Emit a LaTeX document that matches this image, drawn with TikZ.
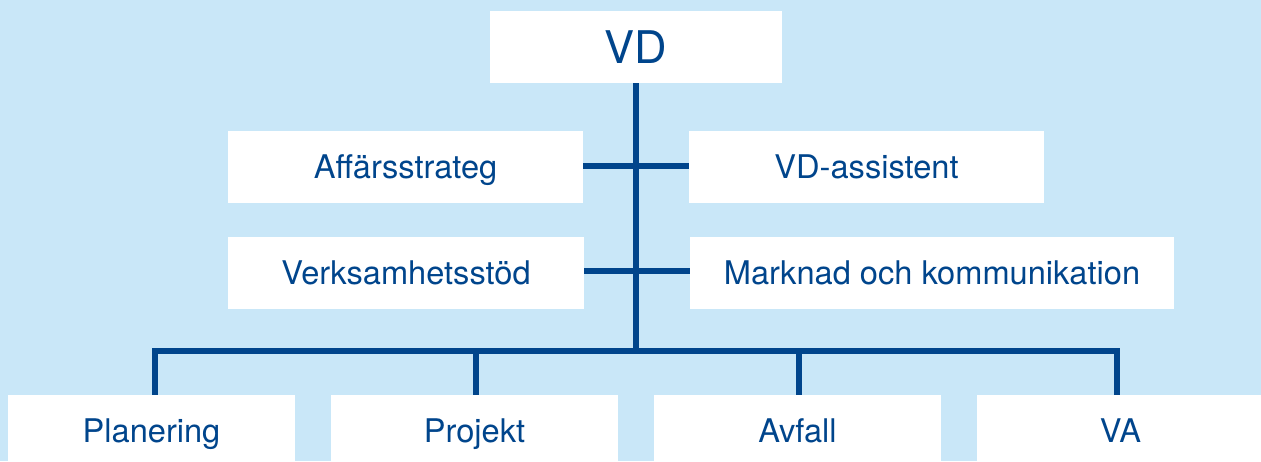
\documentclass[tikz,border=0pt]{standalone}
\usepackage{fontspec}
\setmainfont{TeX Gyre Heros}
\definecolor{bgblue}{HTML}{C9E7F8}
\definecolor{dkblue}{HTML}{00458C}
\begin{document}
\begin{tikzpicture}[x=1pt,y=-1pt,
  box/.style={fill=white, draw=none, inner sep=0pt, text=dkblue,
    font=\fontsize{32.6}{38}\selectfont, text height=23.4pt, text depth=0pt,
    minimum height=72pt},
  bigbox/.style={box, font=\fontsize{45}{52}\selectfont, text height=32.4pt},
  conn/.style={draw=dkblue, line width=6.5pt, line join=miter, line cap=butt}]
\fill[bgblue] (0,0) rectangle (1261,461);
\useasboundingbox (0,0) rectangle (1261,461);
\clip (0,0) rectangle (1261,461);
% nodes
\node[bigbox, minimum width=292pt] (vd) at (636,47) {VD};
\node[box, minimum width=355pt] (aff) at (405.5,167) {Affärsstrateg};
\node[box, minimum width=355pt] (vda) at (866.5,167) {VD-assistent};
\node[box, minimum width=356pt] (verk) at (406,273) {Verksamhetsstöd};
\node[box, minimum width=484pt] (mark) at (932,273) {Marknad och kommunikation};
\node[box, minimum width=287pt, minimum height=71pt] (plan) at (151.5,430.5) {Planering};
\node[box, minimum width=287pt, minimum height=71pt] (proj) at (474.5,430.5) {Projekt};
\node[box, minimum width=287pt, minimum height=71pt] (avf) at (797.5,430.5) {Avfall};
\node[box, minimum width=287pt, minimum height=71pt] (va) at (1120.5,430.5) {VA};
% junctions
\coordinate (j1) at (636,166);
\coordinate (j2) at (636,271);
\coordinate (jb) at (636,351);
\coordinate (c1) at (155,351);
\coordinate (c2) at (476,351);
\coordinate (c3) at (799,351);
\coordinate (c4) at (1117,351);
% connectors
\draw[conn] (vd.south) -- (jb);
\draw[conn] (aff.east |- j1) -- (vda.west |- j1);
\draw[conn] (verk.east |- j2) -- (mark.west |- j2);
\draw[conn] (c1 |- plan.north) -- (c1) -- (c4) -- (c4 |- va.north);
\draw[conn] (c2) -- (c2 |- proj.north);
\draw[conn] (c3) -- (c3 |- avf.north);
\end{tikzpicture}
\end{document}
